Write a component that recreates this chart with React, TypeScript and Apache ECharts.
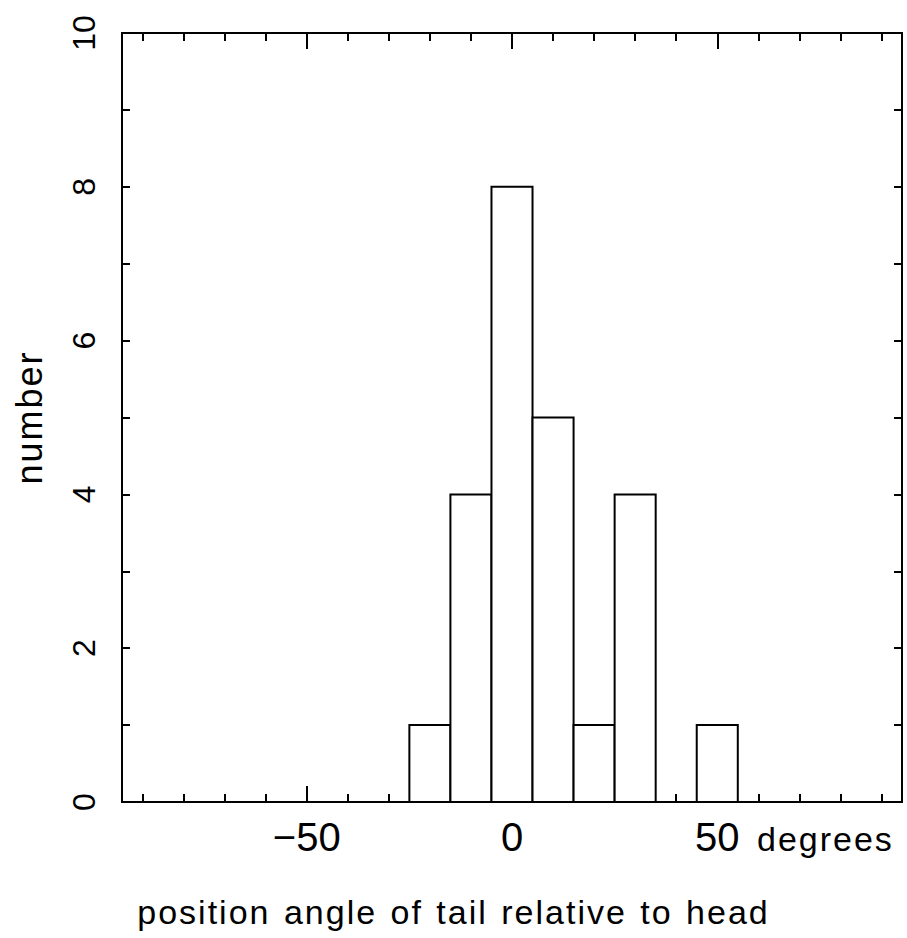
import React, { useEffect, useRef } from "react";
import * as echarts from "echarts";

// ---- data ----
const binEdges = [-25, -15, -5, 5, 15, 25, 35, 45, 55];
const counts = [1, 4, 8, 5, 1, 4, 0, 1];
const xMajorTicks = [-50, 0, 50];
const xMinorTicks = [-90, -80, -70, -60, -40, -30, -20, -10, 10, 20, 30, 40, 60, 70, 80, 90];
const yLabelValues = [0, 2, 4, 6, 8, 10];
const X_MIN = -95;
const X_MAX = 95;
const Y_MIN = 0;
const Y_MAX = 10;
const xTitle = "position angle of tail relative to head";
const yTitle = "number";
const unitLabel = "degrees";

const FONT = "'Liberation Sans', sans-serif";
const SPACED_FONT = "Arial, sans-serif";

export default function App() {
  const ref = useRef<HTMLDivElement>(null);

  useEffect(() => {
    if (!ref.current) return;
    const chart = echarts.init(ref.current, null, { renderer: "svg" });

    const bars = counts.map((c, i) => [binEdges[i], binEdges[i + 1], c]);

    const tickStyle = { color: "#000", width: 2 };
    const lineStyle = { color: "#000", width: 2 };
    const baseX = {
      type: "value" as const,
      min: X_MIN,
      max: X_MAX,
      splitLine: { show: false },
      axisLine: { show: true, onZero: false, lineStyle },
    };
    const baseY = {
      type: "value" as const,
      min: Y_MIN,
      max: Y_MAX,
      interval: 1,
      splitLine: { show: false },
      axisLine: { show: true, onZero: false, lineStyle },
      axisTick: { inside: true, length: 8, lineStyle: tickStyle },
    };

    chart.setOption({
      animation: false,
      grid: {
        left: 122,
        right: 5,
        top: 33,
        bottom: 136,
        show: true,
        borderColor: "#000",
        borderWidth: 2,
        backgroundColor: "transparent",
      },
      xAxis: [
        {
          ...baseX,
          position: "bottom",
          axisTick: { inside: true, length: 8, lineStyle: tickStyle, customValues: xMinorTicks },
          axisLabel: { show: false },
        },
        {
          ...baseX,
          position: "bottom",
          axisTick: { inside: true, length: 16, lineStyle: tickStyle, customValues: xMajorTicks },
          axisLabel: {
            customValues: xMajorTicks,
            formatter: (v: number) => (v < 0 ? "\u2212" + Math.abs(v) : String(v)),
            fontSize: 40,
            fontFamily: FONT,
            color: "#000",
            margin: 15,
          },
        },
        {
          ...baseX,
          position: "top",
          axisTick: { inside: true, length: 8, lineStyle: tickStyle, customValues: xMinorTicks },
          axisLabel: { show: false },
        },
        {
          ...baseX,
          position: "top",
          axisTick: { inside: true, length: 16, lineStyle: tickStyle, customValues: xMajorTicks },
          axisLabel: { show: false },
        },
      ],
      yAxis: [
        {
          ...baseY,
          position: "left",
          axisLabel: {
            customValues: yLabelValues,
            rotate: 90,
            fontSize: 32,
            fontFamily: FONT,
            color: "#000",
            margin: 22,
          },
        },
        {
          ...baseY,
          position: "right",
          axisLabel: { show: false },
        },
      ],
      series: [
        {
          type: "custom",
          xAxisIndex: 0,
          yAxisIndex: 0,
          data: bars,
          encode: { x: [0, 1], y: 2 },
          renderItem: (_params: any, api: any) => {
            const x0 = api.value(0);
            const x1 = api.value(1);
            const c = api.value(2);
            if (!c) return null;
            const pTop = api.coord([x0, c]);
            const pBot = api.coord([x1, 0]);
            return {
              type: "rect",
              shape: {
                x: pTop[0],
                y: pTop[1],
                width: pBot[0] - pTop[0],
                height: pBot[1] - pTop[1],
              },
              style: { fill: "#fff", stroke: "#000", lineWidth: 2 },
            };
          },
        },
      ],
      graphic: [
        {
          type: "text",
          x: 453.5,
          y: 912,
          style: {
            text: xTitle,
            fontSize: 34,
            fontFamily: SPACED_FONT,
            fill: "#000",
            textAlign: "center",
            textVerticalAlign: "middle",
          },
        },
        {
          type: "text",
          x: 29,
          y: 417.5,
          rotation: Math.PI / 2,
          style: {
            text: yTitle,
            fontSize: 36,
            fontFamily: SPACED_FONT,
            fill: "#000",
            textAlign: "center",
            textVerticalAlign: "middle",
          },
        },
        {
          type: "text",
          x: 757,
          y: 839,
          style: {
            text: unitLabel,
            fontSize: 34,
            fontFamily: SPACED_FONT,
            fill: "#000",
            textAlign: "left",
            textVerticalAlign: "middle",
          },
        },
      ],
    });

    return () => chart.dispose();
  }, []);

  return (
    <>
      <style>
        {'svg text[style*="Arial"], svg text[font-family*="Arial"] { letter-spacing: 2px; word-spacing: 2px; }'}
      </style>
      <div
        ref={ref}
        style={{ position: "absolute", left: 0, top: 0, width: 907, height: 938 }}
      />
    </>
  );
}
